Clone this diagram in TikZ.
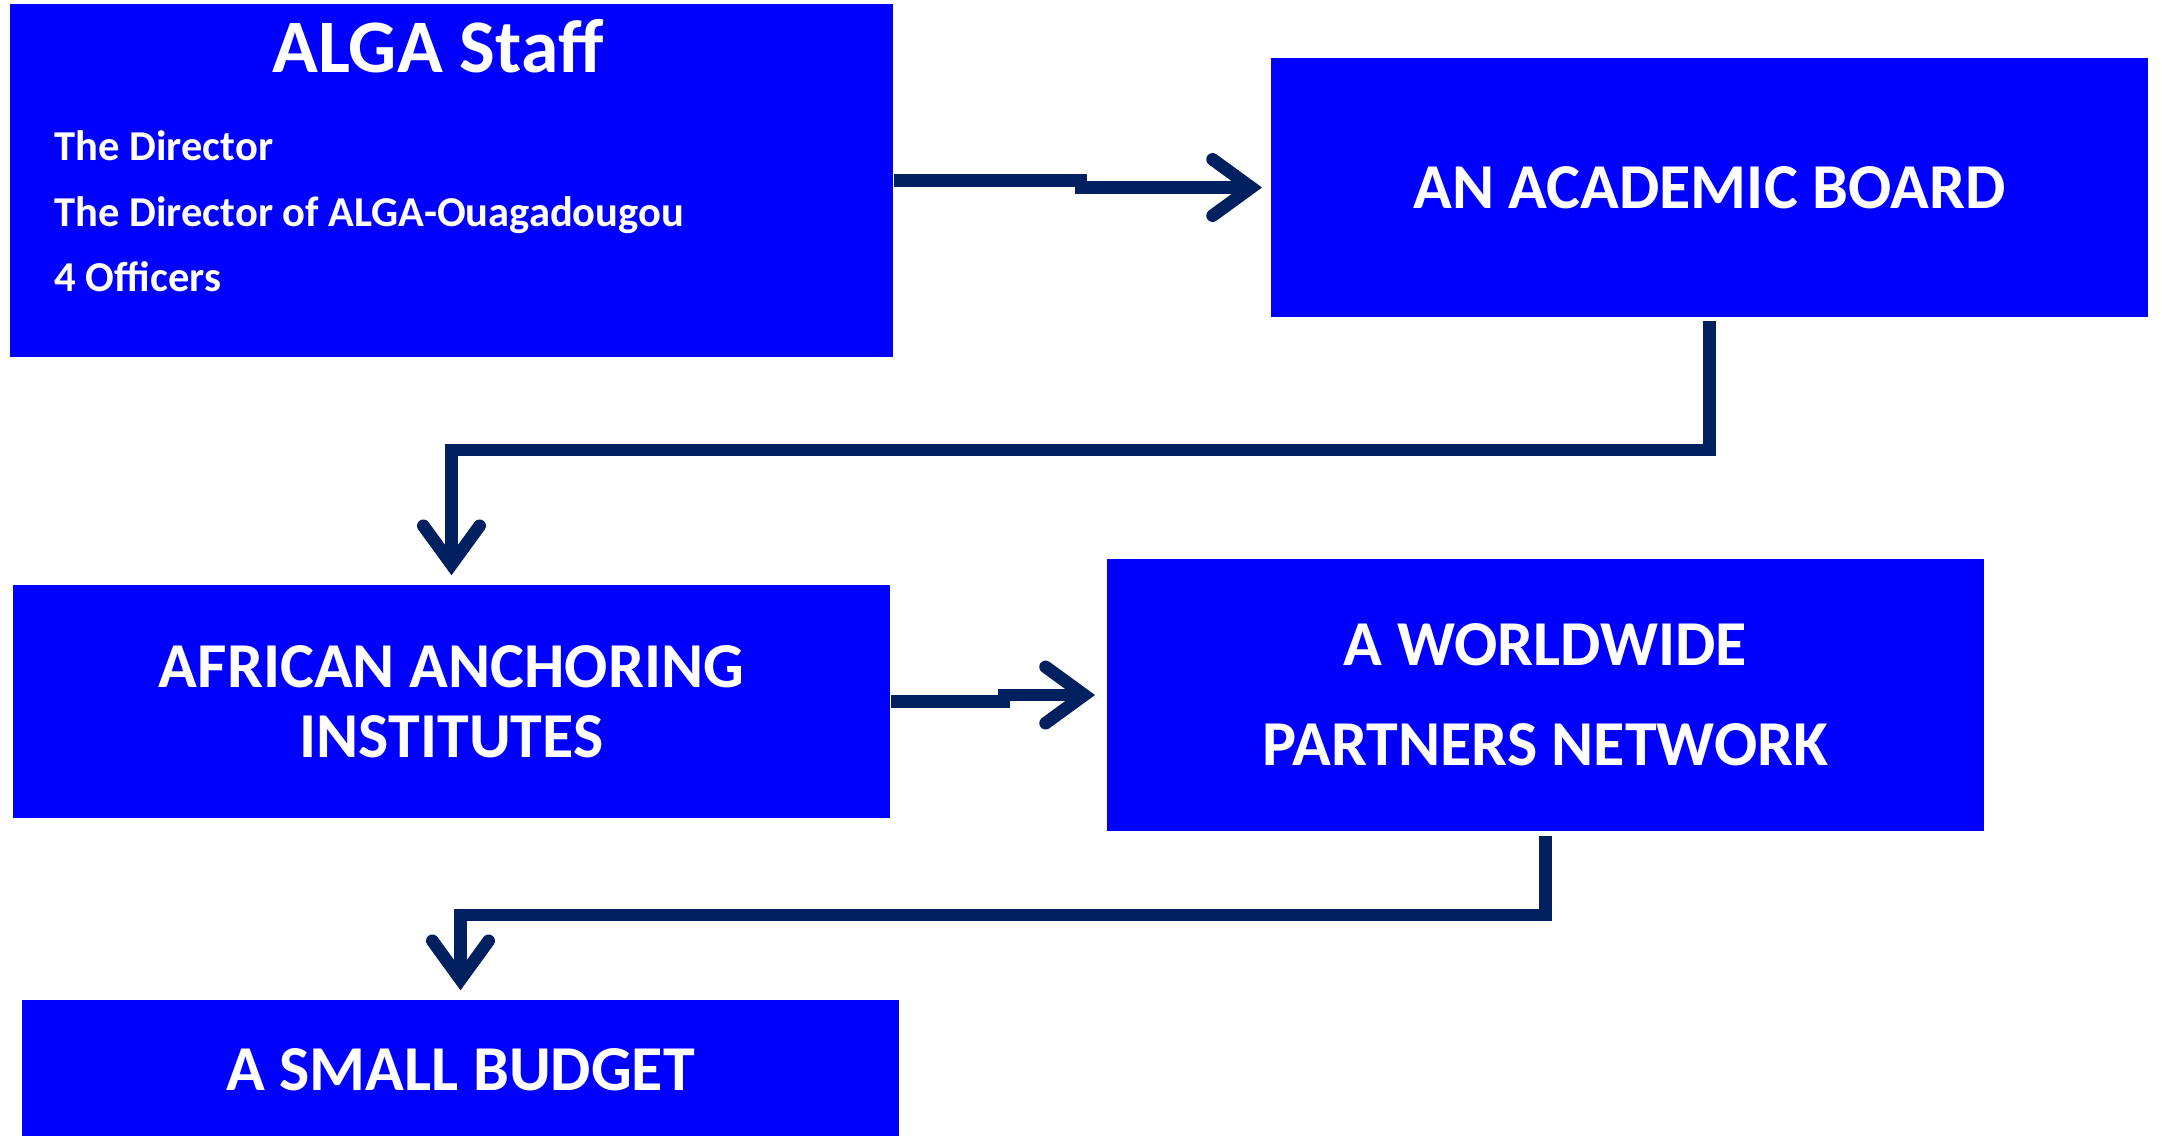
\documentclass[tikz,border=0pt]{standalone}
\usepackage{fontspec}
\setmainfont{Carlito}
\usepackage{tikz}
\usetikzlibrary{shapes,arrows.meta}
\usetikzlibrary{positioning}

\definecolor{boxblue}{HTML}{0000FF}
\definecolor{linenavy}{HTML}{002060}

\begin{document}
\begin{tikzpicture}[x=0.01cm,y=-0.01cm,
  box/.style={fill=boxblue,draw=none,inner sep=0pt,text=white,align=center,
    minimum width=8.77cm},
  boxtext/.style={font=\bfseries\fontsize{18.2}{20}\selectfont},
  listtext/.style={draw=none,text=white,inner sep=0pt,anchor=base west,
    font=\bfseries\fontsize{12.1}{14}\selectfont},
  link/.style={draw=linenavy,line width=3.6pt,line join=miter,
    -{Straight Barb[length=11pt,width=16pt,line width=3.6pt,line cap=round]}}]

\useasboundingbox (0,0) rectangle (2162,1135);

% boxes
\node[box,minimum width=8.83cm,minimum height=3.53cm] (staff) at (451.5,180.5) {};
\node[box,boxtext,minimum height=2.59cm] (board) at (1709.5,187.5) {AN ACADEMIC BOARD};
\node[box,minimum height=2.33cm,font=\bfseries\fontsize{18.2}{19.9}\selectfont]
  (institutes) at (451.5,701.5) {AFRICAN ANCHORING\\INSTITUTES};
\node[box,minimum height=2.72cm,font=\bfseries\fontsize{18.2}{28.5}\selectfont]
  (network) at (1545.5,695) {A WORLDWIDE\\PARTNERS NETWORK};
\node[box,boxtext,minimum height=1.40cm] (budget) at (460.5,1070) {A SMALL BUDGET};

% staff text
\node[draw=none,text=white,inner sep=0pt,anchor=base,
  font=\bfseries\fontsize{21.5}{24}\selectfont] (stafftitle) at (438,72) {ALGA Staff};
\node[listtext] (staffa) at (54,160) {The Director};
\node[listtext] (staffb) at (54,226) {The Director of ALGA-Ouagadougou};
\node[listtext] (staffc) at (54,291) {4 Officers};

% bends
\coordinate (jogA) at (1081,180.5);
\coordinate (jogB) at (1004,701.5);
\coordinate (downA) at (1709.5,450);
\coordinate (downB) at (1545.5,915);

% connectors
\draw[link,shorten >=0.08cm] (staff.east) -- (jogA) |- (board.west);
\draw[link,shorten <=0.03cm,shorten >=0.09cm] (board.south) -- (downA) -| (institutes.north);
\draw[link,shorten >=0.11cm] (institutes.east) -- (jogB) |- (network.west);
\draw[link,shorten <=0.04cm,shorten >=0.09cm] (network.south) -- (downB) -| (budget.north);

\end{tikzpicture}
\end{document}
